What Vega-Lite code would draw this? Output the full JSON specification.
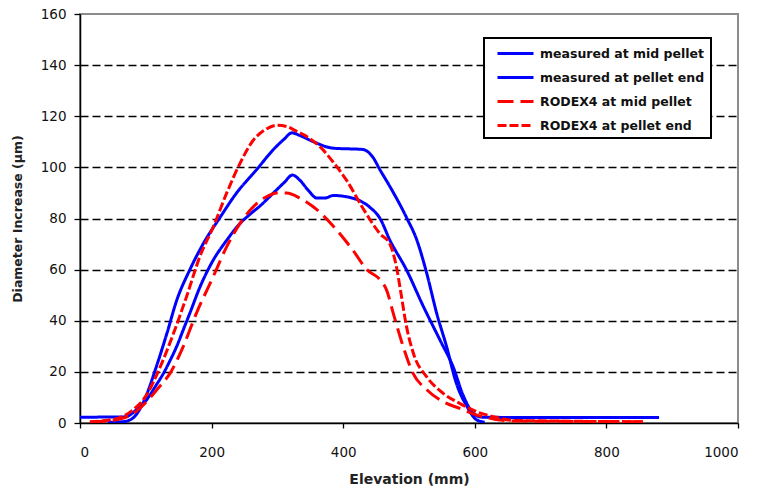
{
  "$schema": "https://vega.github.io/schema/vega-lite/v6.json",
  "width": 658,
  "height": 409,
  "autosize": {"type": "none"},
  "padding": {"left": 80, "top": 14, "right": 19, "bottom": 67},
  "background": "white",
  "config": {
    "view": {"stroke": "#8c8c8c", "strokeWidth": 2},
    "font": "DejaVu Sans",
    "axis": {
      "domainColor": "black",
      "domainWidth": 1.5,
      "tickColor": "black",
      "tickWidth": 1.3,
      "labelFont": "DejaVu Sans",
      "labelFontSize": 13.5,
      "labelColor": "#111",
      "titleFont": "DejaVu Sans",
      "titleFontWeight": "bold",
      "titleColor": "#222"
    },
    "legend": {
      "orient": "none",
      "legendX": 404,
      "legendY": 24,
      "strokeColor": "black",
      "strokeWidth": 2,
      "fillColor": "white",
      "padding": 6,
      "symbolType": "M-0.25,0H4.25",
      "symbolSize": 256,
      "symbolStrokeWidth": 3,
      "rowPadding": 8,
      "labelOffset": 31,
      "labelFont": "DejaVu Sans",
      "labelFontSize": 12.5,
      "labelFontWeight": "bold",
      "labelColor": "#111",
      "labelLimit": 300
    }
  },
  "datasets": {
    "curves": [
      {"s": "measured at mid pellet", "x": 0, "y": 2.2},
      {"s": "measured at mid pellet", "x": 30, "y": 2.3},
      {"s": "measured at mid pellet", "x": 55, "y": 2.3},
      {"s": "measured at mid pellet", "x": 70, "y": 2.5},
      {"s": "measured at mid pellet", "x": 85, "y": 5},
      {"s": "measured at mid pellet", "x": 101, "y": 9},
      {"s": "measured at mid pellet", "x": 115, "y": 14.5},
      {"s": "measured at mid pellet", "x": 127, "y": 19.5},
      {"s": "measured at mid pellet", "x": 137, "y": 24.5},
      {"s": "measured at mid pellet", "x": 147, "y": 30},
      {"s": "measured at mid pellet", "x": 157, "y": 36.5},
      {"s": "measured at mid pellet", "x": 167, "y": 43},
      {"s": "measured at mid pellet", "x": 182, "y": 53},
      {"s": "measured at mid pellet", "x": 202, "y": 63.5},
      {"s": "measured at mid pellet", "x": 223, "y": 71.5},
      {"s": "measured at mid pellet", "x": 243, "y": 78},
      {"s": "measured at mid pellet", "x": 260, "y": 82},
      {"s": "measured at mid pellet", "x": 274, "y": 85},
      {"s": "measured at mid pellet", "x": 294, "y": 90},
      {"s": "measured at mid pellet", "x": 310, "y": 94},
      {"s": "measured at mid pellet", "x": 323, "y": 97},
      {"s": "measured at mid pellet", "x": 334, "y": 95},
      {"s": "measured at mid pellet", "x": 347, "y": 91},
      {"s": "measured at mid pellet", "x": 360, "y": 88},
      {"s": "measured at mid pellet", "x": 372, "y": 88},
      {"s": "measured at mid pellet", "x": 385, "y": 89},
      {"s": "measured at mid pellet", "x": 405, "y": 88.5},
      {"s": "measured at mid pellet", "x": 425, "y": 87},
      {"s": "measured at mid pellet", "x": 440, "y": 84.5},
      {"s": "measured at mid pellet", "x": 456, "y": 80},
      {"s": "measured at mid pellet", "x": 471, "y": 71.5},
      {"s": "measured at mid pellet", "x": 496, "y": 60},
      {"s": "measured at mid pellet", "x": 522, "y": 45.5},
      {"s": "measured at mid pellet", "x": 547, "y": 32.5},
      {"s": "measured at mid pellet", "x": 567, "y": 22},
      {"s": "measured at mid pellet", "x": 582, "y": 11},
      {"s": "measured at mid pellet", "x": 597, "y": 4},
      {"s": "measured at mid pellet", "x": 610, "y": 2.3},
      {"s": "measured at mid pellet", "x": 640, "y": 2.2},
      {"s": "measured at mid pellet", "x": 880, "y": 2.2},

      {"s": "measured at pellet end", "x": 42, "y": 0.3},
      {"s": "measured at pellet end", "x": 65, "y": 0.5},
      {"s": "measured at pellet end", "x": 78, "y": 1.5},
      {"s": "measured at pellet end", "x": 90, "y": 5},
      {"s": "measured at pellet end", "x": 101, "y": 11},
      {"s": "measured at pellet end", "x": 116, "y": 22},
      {"s": "measured at pellet end", "x": 132, "y": 35},
      {"s": "measured at pellet end", "x": 147, "y": 48},
      {"s": "measured at pellet end", "x": 167, "y": 60},
      {"s": "measured at pellet end", "x": 187, "y": 70},
      {"s": "measured at pellet end", "x": 213, "y": 80.5},
      {"s": "measured at pellet end", "x": 238, "y": 90},
      {"s": "measured at pellet end", "x": 268, "y": 99},
      {"s": "measured at pellet end", "x": 294, "y": 107},
      {"s": "measured at pellet end", "x": 310, "y": 111},
      {"s": "measured at pellet end", "x": 322, "y": 113.5},
      {"s": "measured at pellet end", "x": 334, "y": 112.5},
      {"s": "measured at pellet end", "x": 355, "y": 110},
      {"s": "measured at pellet end", "x": 385, "y": 107.5},
      {"s": "measured at pellet end", "x": 430, "y": 107},
      {"s": "measured at pellet end", "x": 445, "y": 104},
      {"s": "measured at pellet end", "x": 456, "y": 99},
      {"s": "measured at pellet end", "x": 471, "y": 92.5},
      {"s": "measured at pellet end", "x": 496, "y": 80.5},
      {"s": "measured at pellet end", "x": 512, "y": 71.5},
      {"s": "measured at pellet end", "x": 527, "y": 58.5},
      {"s": "measured at pellet end", "x": 542, "y": 43},
      {"s": "measured at pellet end", "x": 557, "y": 30},
      {"s": "measured at pellet end", "x": 572, "y": 15.5},
      {"s": "measured at pellet end", "x": 588, "y": 6.5},
      {"s": "measured at pellet end", "x": 603, "y": 1.2},
      {"s": "measured at pellet end", "x": 615, "y": 0.3},

      {"s": "RODEX4 at mid pellet", "x": 15, "y": 0.3},
      {"s": "RODEX4 at mid pellet", "x": 40, "y": 0.8},
      {"s": "RODEX4 at mid pellet", "x": 60, "y": 1.5},
      {"s": "RODEX4 at mid pellet", "x": 80, "y": 3.5},
      {"s": "RODEX4 at mid pellet", "x": 100, "y": 8},
      {"s": "RODEX4 at mid pellet", "x": 120, "y": 14},
      {"s": "RODEX4 at mid pellet", "x": 137, "y": 19.5},
      {"s": "RODEX4 at mid pellet", "x": 157, "y": 30},
      {"s": "RODEX4 at mid pellet", "x": 177, "y": 43},
      {"s": "RODEX4 at mid pellet", "x": 202, "y": 57},
      {"s": "RODEX4 at mid pellet", "x": 223, "y": 69},
      {"s": "RODEX4 at mid pellet", "x": 243, "y": 78},
      {"s": "RODEX4 at mid pellet", "x": 263, "y": 84.5},
      {"s": "RODEX4 at mid pellet", "x": 280, "y": 88},
      {"s": "RODEX4 at mid pellet", "x": 300, "y": 90},
      {"s": "RODEX4 at mid pellet", "x": 314, "y": 90},
      {"s": "RODEX4 at mid pellet", "x": 334, "y": 88},
      {"s": "RODEX4 at mid pellet", "x": 355, "y": 84.5},
      {"s": "RODEX4 at mid pellet", "x": 385, "y": 77},
      {"s": "RODEX4 at mid pellet", "x": 415, "y": 67.5},
      {"s": "RODEX4 at mid pellet", "x": 436, "y": 60},
      {"s": "RODEX4 at mid pellet", "x": 456, "y": 56},
      {"s": "RODEX4 at mid pellet", "x": 466, "y": 52},
      {"s": "RODEX4 at mid pellet", "x": 476, "y": 43},
      {"s": "RODEX4 at mid pellet", "x": 491, "y": 30},
      {"s": "RODEX4 at mid pellet", "x": 506, "y": 19.5},
      {"s": "RODEX4 at mid pellet", "x": 527, "y": 13},
      {"s": "RODEX4 at mid pellet", "x": 552, "y": 8.3},
      {"s": "RODEX4 at mid pellet", "x": 577, "y": 5.7},
      {"s": "RODEX4 at mid pellet", "x": 603, "y": 3.1},
      {"s": "RODEX4 at mid pellet", "x": 630, "y": 1.5},
      {"s": "RODEX4 at mid pellet", "x": 660, "y": 0.8},
      {"s": "RODEX4 at mid pellet", "x": 860, "y": 0.5},

      {"s": "RODEX4 at pellet end", "x": 15, "y": 0.5},
      {"s": "RODEX4 at pellet end", "x": 40, "y": 1},
      {"s": "RODEX4 at pellet end", "x": 60, "y": 2},
      {"s": "RODEX4 at pellet end", "x": 80, "y": 5},
      {"s": "RODEX4 at pellet end", "x": 100, "y": 10.5},
      {"s": "RODEX4 at pellet end", "x": 122, "y": 22},
      {"s": "RODEX4 at pellet end", "x": 142, "y": 35},
      {"s": "RODEX4 at pellet end", "x": 162, "y": 49.5},
      {"s": "RODEX4 at pellet end", "x": 182, "y": 65},
      {"s": "RODEX4 at pellet end", "x": 203, "y": 77},
      {"s": "RODEX4 at pellet end", "x": 223, "y": 90},
      {"s": "RODEX4 at pellet end", "x": 243, "y": 101.5},
      {"s": "RODEX4 at pellet end", "x": 263, "y": 110.5},
      {"s": "RODEX4 at pellet end", "x": 280, "y": 114.5},
      {"s": "RODEX4 at pellet end", "x": 300, "y": 116.5},
      {"s": "RODEX4 at pellet end", "x": 314, "y": 116},
      {"s": "RODEX4 at pellet end", "x": 330, "y": 114},
      {"s": "RODEX4 at pellet end", "x": 345, "y": 112},
      {"s": "RODEX4 at pellet end", "x": 365, "y": 108},
      {"s": "RODEX4 at pellet end", "x": 385, "y": 102},
      {"s": "RODEX4 at pellet end", "x": 405, "y": 95},
      {"s": "RODEX4 at pellet end", "x": 430, "y": 84},
      {"s": "RODEX4 at pellet end", "x": 456, "y": 74},
      {"s": "RODEX4 at pellet end", "x": 471, "y": 70},
      {"s": "RODEX4 at pellet end", "x": 481, "y": 61},
      {"s": "RODEX4 at pellet end", "x": 487, "y": 52},
      {"s": "RODEX4 at pellet end", "x": 496, "y": 38},
      {"s": "RODEX4 at pellet end", "x": 507, "y": 27},
      {"s": "RODEX4 at pellet end", "x": 527, "y": 18},
      {"s": "RODEX4 at pellet end", "x": 552, "y": 11.6},
      {"s": "RODEX4 at pellet end", "x": 577, "y": 7.7},
      {"s": "RODEX4 at pellet end", "x": 603, "y": 4.4},
      {"s": "RODEX4 at pellet end", "x": 628, "y": 2.5},
      {"s": "RODEX4 at pellet end", "x": 660, "y": 1},
      {"s": "RODEX4 at pellet end", "x": 860, "y": 0.5}
    ]
  },
  "data": {"name": "curves"},
  "mark": {"type": "line", "strokeWidth": 3, "interpolate": "monotone", "clip": true},
  "encoding": {
    "x": {
      "field": "x",
      "type": "quantitative",
      "scale": {"domain": [0, 1000], "nice": false},
      "axis": {
        "title": "Elevation (mm)",
        "titleFontSize": 14,
        "titlePadding": 14,
        "format": "d",
        "values": [0, 200, 400, 600, 800, 1000],
        "tickSize": 5,
        "labelPadding": 17,
        "grid": false
      }
    },
    "y": {
      "field": "y",
      "type": "quantitative",
      "scale": {"domain": [0, 160], "nice": false},
      "axis": {
        "title": "Diameter Increase (µm)",
        "titleFontSize": 12.5,
        "titlePadding": 16,
        "values": [0, 20, 40, 60, 80, 100, 120, 140, 160],
        "tickSize": 6,
        "labelPadding": 8,
        "grid": true,
        "gridColor": "black",
        "gridDash": [8, 4],
        "gridWidth": 1.3,
        "gridOpacity": {"condition": {"test": "datum.value === 0 || datum.value === 160", "value": 0}, "value": 1}
      }
    },
    "color": {
      "field": "s",
      "type": "nominal",
      "sort": ["measured at mid pellet", "measured at pellet end", "RODEX4 at mid pellet", "RODEX4 at pellet end"],
      "scale": {
        "domain": ["measured at mid pellet", "measured at pellet end", "RODEX4 at mid pellet", "RODEX4 at pellet end"],
        "range": ["#0000ff", "#0000ff", "#ff0000", "#ff0000"]
      },
      "legend": {"title": null}
    },
    "strokeDash": {
      "field": "s",
      "type": "nominal",
      "sort": ["measured at mid pellet", "measured at pellet end", "RODEX4 at mid pellet", "RODEX4 at pellet end"],
      "scale": {
        "domain": ["measured at mid pellet", "measured at pellet end", "RODEX4 at mid pellet", "RODEX4 at pellet end"],
        "range": [[1, 0], [1, 0], [16, 7], [9, 3]]
      },
      "legend": {"title": null}
    }
  }
}
